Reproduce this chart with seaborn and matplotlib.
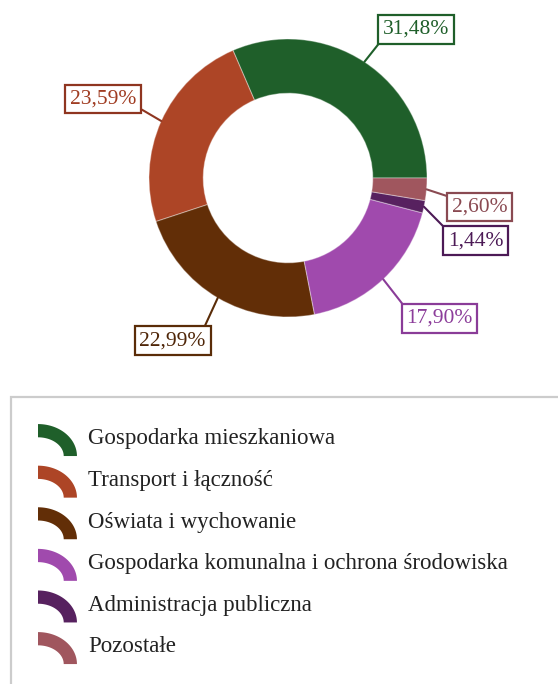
import numpy as np
import matplotlib
matplotlib.use("Agg")
import matplotlib.pyplot as plt
import seaborn as sns
from matplotlib.patches import Polygon, Rectangle
from matplotlib.legend_handler import HandlerPatch

# data
categories = ["Gospodarka mieszkaniowa", "Transport i łączność", "Oświata i wychowanie",
              "Gospodarka komunalna i ochrona środowiska", "Administracja publiczna", "Pozostałe"]
shares = [31.48, 23.59, 22.99, 17.90, 1.44, 2.60]
pct_labels = ["31,48%", "23,59%", "22,99%", "17,90%", "1,44%", "2,60%"]

colors = ["#1f5f2a", "#ad4526", "#622e07", "#a04aad", "#57215f", "#a0565e"]
label_text = ["#1f5f2a", "#a03c22", "#4f2608", "#8c3d9a", "#4c1a56", "#8a4a52"]
label_edge = ["#1f5f2a", "#8f3520", "#5a2c08", "#8a3c98", "#4c1a56", "#8a4a52"]

# label box centres (data units of pie axes) and where the leader line meets the box
label_pos = [(0.92, 1.07), (-1.33, 0.57), (-0.83, -1.17), (1.09, -1.01), (1.35, -0.45), (1.38, -0.21)]
label_rel = [(0, 0), (1, 0.1), (0.95, 1), (0, 1), (0, 1), (0, 1)]

sns.set_theme(style="white")
plt.rcParams['font.family'] = ['Liberation Serif', 'DejaVu Serif']

W, H = 558, 684
fig = plt.figure(figsize=(W / 100, H / 100), dpi=100)

cx, cy, r = 288, 178, 139
half = 150
ax = fig.add_axes([(cx - half) / W, (H - cy - half) / H, 2 * half / W, 2 * half / H])
wedges, _ = ax.pie(shares, colors=colors, startangle=0, counterclock=True,
                   radius=1, wedgeprops=dict(width=0.39, edgecolor=(1, 1, 1, 0.35), linewidth=0.8))
lim = half / r
ax.set_xlim(-lim, lim)
ax.set_ylim(-lim, lim)
ax.set_aspect("equal")
ax.axis("off")

for w, txt, tc, ec, pos, rel in zip(wedges, pct_labels, label_text, label_edge, label_pos, label_rel):
    mid = np.deg2rad((w.theta1 + w.theta2) / 2)
    ax.annotate(txt, xy=(np.cos(mid), np.sin(mid)), xytext=pos, textcoords="data",
                ha="center", va="center", fontsize=15.5, color=tc, annotation_clip=False,
                bbox=dict(boxstyle="square,pad=0.22", fc="white", ec=ec, lw=1.6),
                arrowprops=dict(arrowstyle="-", color=ec, lw=1.5, relpos=rel,
                                shrinkA=0, shrinkB=0))


def arc_marker(legend, orig_handle, xdescent, ydescent, width, height, fontsize):
    # quarter ring, sitting a little below the text centre like the original
    x0, y0 = -xdescent, -ydescent - 2.2
    t = np.linspace(0, np.pi / 2, 30)
    th = 0.34
    outer = np.column_stack([x0 + width * np.cos(t), y0 + height * np.sin(t)])
    inner = np.column_stack([x0 + width * (1 - th) * np.cos(t[::-1]),
                             y0 + height * (1 - th * width / height) * np.sin(t[::-1])])
    return Polygon(np.vstack([outer, inner]), closed=True)


handles = [Rectangle((0, 0), 1, 1, fc=c, ec="none") for c in colors]
fig.legend(handles, categories, loc="upper left",
           bbox_to_anchor=(38 / W, 1 - 421 / H), bbox_transform=fig.transFigure,
           frameon=False, fontsize=16.5, handlelength=1.7, handleheight=1.77,
           handletextpad=0.5, labelspacing=0.42, borderpad=0, borderaxespad=0,
           labelcolor="#222222",
           handler_map={Rectangle: HandlerPatch(patch_func=arc_marker)})

# legend frame (runs off the right and bottom of the image)
fig.patches.append(Rectangle((11 / W, -0.05), 1.0, (H - 397) / H + 0.05,
                             transform=fig.transFigure, fill=False,
                             ec="#cccccc", lw=1.6))

fig.savefig("out.png", dpi=100)
